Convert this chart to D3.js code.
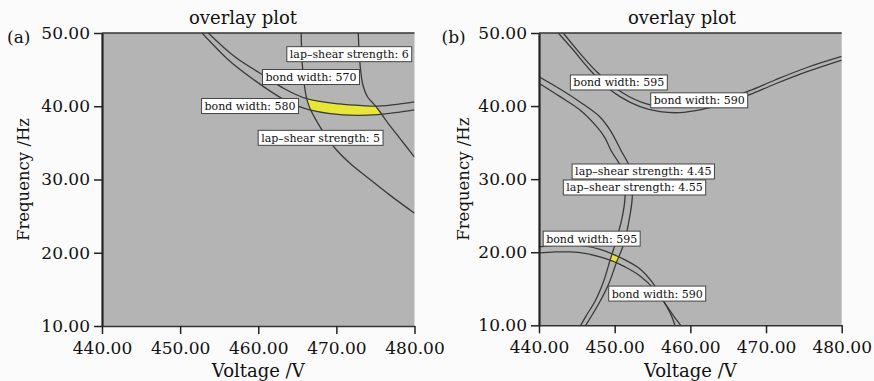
<!DOCTYPE html>
<html>
<meta charset="utf-8">
<style>
  body { margin: 0; background: #fbfbfb; }
  svg { display: block; }
  text { font-family: "DejaVu Serif", serif; fill: #111; }
</style>
<body>
<div id="chart"></div>
<script src="https://d3js.org/d3.v7.min.js"></script>
<script>
"use strict";

// axis ticks shared by both panels
var xTicks = [440, 450, 460, 470, 480];
var yTicks = [10, 20, 30, 40, 50];

// ---- panel (a): contour lines, [voltage, frequency]
var aBond570 = [[453.6, 50], [457.0, 46.76], [460.6, 44.27], [463.4, 42.35], [466.2, 41.03],
  [470.4, 40.31], [473.4, 40.08], [475.3, 40.03], [478.1, 40.31], [480, 40.6]];
var aBond580 = [[452.8, 50], [456.2, 46.31], [458.3, 44.5], [463.0, 41.08], [465.1, 40.03],
  [466.6, 39.52], [469.2, 39.0], [472.6, 38.76], [475.3, 38.87], [478.1, 39.21], [480, 39.5]];
var aShear5 = [[465.5, 50], [465.6, 46.31], [465.9, 42.9], [466.2, 41.03], [466.6, 39.76],
  [467.4, 38.1], [468.5, 36.2], [469.8, 34.3], [471.7, 32.25], [473.9, 30.34], [476.8, 27.9], [480, 25.4]];
var aShear6 = [[472.8, 50], [472.9, 47.68], [473.1, 44.95], [473.4, 42.9], [474.0, 41.26],
  [474.8, 40.3], [475.5, 39.35], [476.8, 37.43], [478.1, 35.66], [480, 33.06]];
// feasible (yellow) window
var aYellow = [[466.2, 41.03], [468.3, 40.62], [470.4, 40.31], [473.4, 40.08], [474.9, 40.05],
  [475.5, 39.35], [475.8, 38.9], [475.3, 38.87], [472.6, 38.76], [469.2, 39.0], [466.6, 39.52], [466.4, 40.2]];
var aLabels = [
  { text: "lap\u2013shear strength: 6", v: 471.65, f: 47.11 },
  { text: "bond width: 570", v: 466.75, f: 43.99 },
  { text: "bond width: 580", v: 458.95, f: 40.03 },
  { text: "lap\u2013shear strength: 5", v: 467.98, f: 35.69 }
];

// ---- panel (b)
var bBondTopOuter = [[442.55, 50], [444.53, 47.67], [446.74, 44.94], [448.95, 42.65], [450.70, 41.29],
  [453.35, 39.92], [455.99, 39.23], [458.63, 39.10], [461.28, 39.47], [463.92, 40.15], [467.75, 41.52],
  [471.19, 43.02], [475.42, 44.71], [480, 46.3]];
var bBondTopInner = [[443.21, 50], [445.42, 47.22], [447.63, 44.71], [451.14, 41.75], [454.23, 40.29],
  [457.31, 39.84], [459.96, 39.95], [463.92, 40.70], [467.75, 42.07], [471.19, 43.57], [475.42, 45.28], [480, 46.79]];
var bShearOuter = [[440, 44.02], [442.78, 42.34], [445.42, 40.56], [448.06, 38.51], [449.38, 36.73],
  [450.80, 33.99], [452.12, 31.26], [452.33, 27.61], [451.99, 24.87], [451.23, 21.23], [450.2, 18.5],
  [449.25, 15.76], [447.93, 13.02], [446.17, 10]];
var bShearInner = [[440, 43.12], [442.78, 41.29], [445.42, 39.47], [447.63, 37.18], [448.72, 35.64],
  [449.48, 33.99], [451.01, 31.26], [451.37, 27.61], [451.01, 24.87], [450.1, 21.23], [449.4, 18.95],
  [448.6, 16.21], [447.49, 13.47], [446.17, 11.19], [445.51, 10]];
var bBondLowInner = [[440, 20.73], [442.11, 20.93], [444.10, 21.0], [446.08, 20.86], [448.06, 20.38],
  [449.65, 19.77], [451.37, 18.95], [453.35, 17.72], [454.93, 15.94], [456.39, 13.48], [457.44, 11.43], [457.97, 10]];
var bBondLowOuter = [[440, 19.90], [442.11, 20.04], [444.10, 20.04], [446.08, 19.84], [448.06, 19.36],
  [449.65, 18.81], [451.37, 17.99], [453.35, 16.76], [455.33, 14.84], [456.78, 12.79], [457.97, 11.01], [458.73, 10]];
var bYellow = [[449.6, 19.75], [450.53, 19.35], [450.2, 18.5], [449.39, 18.9]];
var bLabels = [
  { text: "bond width: 595", v: 450.55, f: 43.23 },
  { text: "bond width: 590", v: 461.17, f: 40.79 },
  { text: "lap\u2013shear strength: 4.45", v: 453.78, f: 31.05 },
  { text: "lap\u2013shear strength: 4.55", v: 452.62, f: 28.86 },
  { text: "bond width: 595", v: 446.96, f: 21.86 },
  { text: "bond width: 590", v: 455.62, f: 14.34 }
];

var svg = d3.select("#chart").append("svg")
  .attr("width", 874)
  .attr("height", 381);

var fmt = d3.format(".2f");

function drawPanel(p) {
  var x = d3.scaleLinear().domain([440, 480]).range([p.left, p.right]);
  var y = d3.scaleLinear().domain([10, 50]).range([p.bottom, p.top]);
  var g = svg.append("g");

  svg.append("clipPath").attr("id", p.id + "-clip")
    .append("rect")
    .attr("x", p.left).attr("y", p.top)
    .attr("width", p.right - p.left).attr("height", p.bottom - p.top);

  // gray plot area
  g.append("rect")
    .attr("x", p.left).attr("y", p.top)
    .attr("width", p.right - p.left).attr("height", p.bottom - p.top)
    .attr("fill", "#b4b4b4");

  var plot = g.append("g").attr("clip-path", "url(#" + p.id + "-clip)");

  var line = d3.line()
    .x(function (d) { return x(d[0]); })
    .y(function (d) { return y(d[1]); })
    .curve(d3.curveCatmullRom.alpha(0.5));

  var area = d3.line()
    .x(function (d) { return x(d[0]); })
    .y(function (d) { return y(d[1]); })
    .curve(d3.curveCatmullRomClosed.alpha(0.5));

  plot.append("path")
    .attr("d", area(p.yellow))
    .attr("fill", "#e9e63a");

  plot.selectAll("path.contour")
    .data(p.curves)
    .enter()
    .append("path")
    .attr("class", "contour")
    .attr("d", line)
    .attr("fill", "none")
    .attr("stroke", "#3a3a3a")
    .attr("stroke-width", 1.3);

  // frame line along the top
  g.append("line")
    .attr("x1", p.left).attr("x2", p.right)
    .attr("y1", p.top).attr("y2", p.top)
    .attr("stroke", "#333").attr("stroke-width", 1.5);

  // axes
  var yAxis = g.append("g")
    .attr("transform", "translate(" + p.left + ",0)")
    .call(d3.axisLeft(y).tickValues(yTicks).tickFormat(fmt).tickSize(8).tickSizeOuter(0).tickPadding(4));
  var xAxis = g.append("g")
    .attr("transform", "translate(0," + p.bottom + ")")
    .call(d3.axisBottom(x).tickValues(xTicks).tickFormat(fmt).tickSize(8).tickSizeOuter(0).tickPadding(8));

  [yAxis, xAxis].forEach(function (a) {
    a.attr("font-family", null).attr("font-size", null);
    a.selectAll("text").style("font-size", "17px").attr("fill", "#111");
    a.selectAll("line").attr("stroke", "#222").attr("stroke-width", 1.5);
  });
  yAxis.select(".domain").attr("stroke", "#222").attr("stroke-width", 2.2);
  xAxis.select(".domain").attr("stroke", "#333").attr("stroke-width", 1.5);

  // contour labels
  var lab = plot.selectAll("g.lab")
    .data(p.labels)
    .enter()
    .append("g")
    .attr("class", "lab")
    .attr("transform", function (d) { return "translate(" + x(d.v) + "," + y(d.f) + ")"; });
  lab.append("rect");
  lab.append("text")
    .attr("text-anchor", "middle")
    .attr("dy", "0.36em")
    .style("font-size", "11px")
    .text(function (d) { return d.text; });
  lab.each(function () {
    var el = d3.select(this);
    var w = el.select("text").node().getComputedTextLength();
    el.select("rect")
      .attr("x", -w / 2 - 3).attr("y", -7.5)
      .attr("width", w + 6).attr("height", 15)
      .attr("fill", "#fff")
      .attr("stroke", "#444").attr("stroke-width", 1);
  });

  // titles
  g.append("text")
    .attr("x", p.titleX).attr("y", 24)
    .attr("text-anchor", "middle")
    .style("font-size", "18px")
    .text("overlay plot");
  g.append("text")
    .attr("x", p.tagX).attr("y", 43)
    .style("font-size", "17px")
    .text(p.tag);
  g.append("text")
    .attr("x", (p.left + p.right) / 2).attr("y", 377)
    .attr("text-anchor", "middle")
    .style("font-size", "18px")
    .text("Voltage /V");
  g.append("text")
    .attr("transform", "translate(" + p.yTitleX + "," + (p.top + p.bottom) / 2 + ") rotate(-90)")
    .attr("text-anchor", "middle")
    .style("font-size", "16.5px")
    .text("Frequency /Hz");
}

drawPanel({
  id: "a", left: 102, right: 414.5, top: 33, bottom: 326,
  titleX: 243, tag: "(a)", tagX: 7, yTitleX: 29,
  curves: [aBond570, aBond580, aShear5, aShear6],
  yellow: aYellow, labels: aLabels
});
drawPanel({
  id: "b", left: 539, right: 841.7, top: 33, bottom: 325.3,
  titleX: 682, tag: "(b)", tagX: 441.5, yTitleX: 469,
  curves: [bBondTopOuter, bBondTopInner, bShearOuter, bShearInner, bBondLowInner, bBondLowOuter],
  yellow: bYellow, labels: bLabels
});
</script>
</body>
</html>
